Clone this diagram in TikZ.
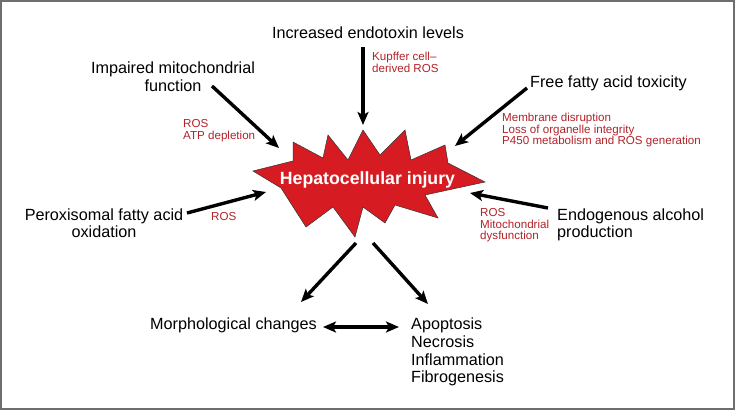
\documentclass[tikz,border=0pt]{standalone}
\usepackage{fontspec}
\setmainfont{Liberation Sans}
\usetikzlibrary{arrows.meta}
\definecolor{starred}{RGB}{214,28,34}
\definecolor{labred}{RGB}{178,34,40}
\definecolor{framegray}{RGB}{110,110,110}
\tikzset{
  blk/.style={inner sep=0pt, font=\fontsize{16.2}{17.6}\selectfont, text=black},
  redl/.style={inner sep=0pt, font=\fontsize{11.6}{11.7}\selectfont, text=labred, align=left},
  arr/.style={line width=3.4pt, -{Stealth[length=13pt,width=11pt,inset=3pt]}},
  darr/.style={line width=3.4pt, {Stealth[length=13pt,width=11pt,inset=3pt]}-{Stealth[length=13pt,width=11pt,inset=3pt]}}
}
\begin{document}
\begin{tikzpicture}[x=1pt,y=-1pt]
\useasboundingbox (0,0) rectangle (740,413);
\draw[framegray, line width=1.4pt] (1,1) rectangle (734,409);

% star
\draw[fill=starred, draw=black!80, line width=0.5pt]
 (253,171) -- (293,161) -- (293,142) -- (323,158) -- (328,135) -- (348,160)
 -- (363,130) -- (380,155) -- (405,130) -- (411,160) -- (445,145) -- (448,163)
 -- (485,182) -- (425,195) -- (438,218) -- (395,205) -- (385,223) -- (363,207)
 -- (355,237) -- (333,207) -- (306,227) -- (281,188) -- cycle;
\node[inner sep=0pt, anchor=base, text=white, font=\fontsize{17.7}{18}\selectfont\bfseries] (hep) at (367.5,184) {Hepatocellular injury};

% black labels
\node[blk, anchor=north] (endo) at (368,27) {Increased endotoxin levels};
\node[blk, anchor=north, align=center] (imp) at (173,61.7) {Impaired mitochondrial\\function};
\node[blk, anchor=north west] (ffa) at (530,76) {Free fatty acid toxicity};
\node[blk, anchor=north, align=center] (per) at (104,208.3) {Peroxisomal fatty acid\\oxidation};
\node[blk, anchor=north west, align=left] (alc) at (557,208.3) {Endogenous alcohol\\production};
\node[blk, anchor=north east] (morph) at (317,318) {Morphological changes};
\node[blk, anchor=north west, align=left] (out) at (411,318) {Apoptosis\\Necrosis\\Inflammation\\Fibrogenesis};

% red labels
\node[redl, anchor=north west] (kup) at (372,52) {Kupffer cell--\\derived ROS};
\node[redl, anchor=north west] (atp) at (183,119) {ROS\\ATP depletion};
\node[redl, anchor=north west] (mem) at (502,112.7) {Membrane disruption\\Loss of organelle integrity\\P450 metabolism and ROS generation};
\node[redl, anchor=north west] (ros) at (211,212.6) {ROS};
\node[redl, anchor=north west] (mit) at (480,208) {ROS\\Mitochondrial\\dysfunction};

% connector end points
\coordinate (impS) at (212,86);   \coordinate (impT) at (279,148);
\coordinate (endS) at (363,47);   \coordinate (endT) at (363,125);
\coordinate (ffaS) at (527,88);   \coordinate (ffaT) at (455,146);
\coordinate (perS) at (187,213);  \coordinate (perT) at (266,192);
\coordinate (alcS) at (548,208);  \coordinate (alcT) at (470,193);
\coordinate (dlS) at (356,243);   \coordinate (dlT) at (301,302);
\coordinate (drS) at (373,243);   \coordinate (drT) at (428,304);
\coordinate (dbL) at (323,327);   \coordinate (dbR) at (399,327);

\draw[arr] (impS) -- (impT);
\draw[arr] (endS) -- (endT);
\draw[arr] (ffaS) -- (ffaT);
\draw[arr] (perS) -- (perT);
\draw[arr] (alcS) -- (alcT);
\draw[arr] (dlS) -- (dlT);
\draw[arr] (drS) -- (drT);
\draw[darr] (dbL) -- (dbR);
\end{tikzpicture}
\end{document}
